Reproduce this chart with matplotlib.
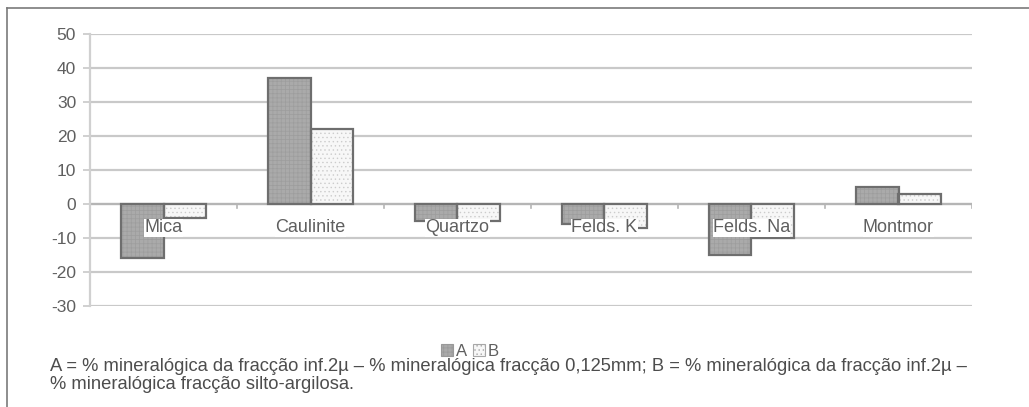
import numpy as np
import matplotlib
matplotlib.use("Agg")
import matplotlib.pyplot as plt
from matplotlib.patches import Patch
from matplotlib.lines import Line2D

plt.rcParams['font.family'] = ['Liberation Sans', 'DejaVu Sans']
plt.rcParams['hatch.linewidth'] = 0.5

# minerais e diferencas (%)
minerais = ['Mica', 'Caulinite', 'Quartzo', 'Felds. K', 'Felds. Na', 'Montmor']
serie_a = [-16, 37, -5, -6, -15, 5]
serie_b = [-4, 22, -5, -7, -10, 3]
yticks = [-30, -20, -10, 0, 10, 20, 30, 40, 50]

legenda = ('A = % mineralógica da fracção inf.2µ \u2013 % mineralógica fracção 0,125mm; '
           'B = % mineralógica da fracção inf.2µ \u2013\n% mineralógica fracção silto-argilosa.')

cinza_txt = '#5f5f5f'
borda = '#6e6e6e'

fig = plt.figure(figsize=(10.29, 4.07), dpi=100)
ax = fig.add_axes([90 / 1029, 1 - 306 / 407, 882 / 1029, 272 / 407])

x = np.arange(len(minerais))
w = 0.29

# preenchimento com textura
ax.bar(x - w / 2, serie_a, w, color='#aaaaaa', edgecolor='#9d9d9d', hatch='++++', linewidth=0, zorder=2)
ax.bar(x + w / 2, serie_b, w, color='#f7f7f7', edgecolor='#cccccc', hatch='....', linewidth=0, zorder=2)
# contornos
ax.bar(x - w / 2, serie_a, w, fill=False, edgecolor=borda, linewidth=1.6, zorder=3)
ax.bar(x + w / 2, serie_b, w, fill=False, edgecolor=borda, linewidth=1.6, zorder=3)

ax.set_xlim(-0.5, len(minerais) - 0.5)
ax.set_ylim(-30, 50)
ax.set_yticks(yticks)
ax.set_yticklabels([str(v) for v in yticks], fontsize=12.5, color=cinza_txt)
ax.tick_params(axis='y', length=5, width=1.2, color='#c8c8c8', pad=5)
ax.set_xticks([])
ax.grid(axis='y', color='#c9c9c9', linewidth=1.6, zorder=0)
ax.set_axisbelow(True)
for s in ['top', 'right', 'bottom']:
    ax.spines[s].set_visible(False)
ax.spines['left'].set_color('#d0d0d0')
ax.spines['left'].set_linewidth(1.6)

# eixo das categorias no zero
ax.axhline(0, color='#b5b5b5', linewidth=1.6, zorder=1)
for b in np.arange(0.5, len(minerais), 1.0):
    ax.plot([b, b], [0, -1.2], color='#b5b5b5', linewidth=1.2, zorder=1)

for i, nome in enumerate(minerais):
    ax.text(i, -7.0, nome, ha='center', va='center', fontsize=13, color=cinza_txt, zorder=4,
            bbox=dict(facecolor='white', edgecolor='none', pad=0.3))

# legenda das series
handles = [Patch(facecolor='#aaaaaa', edgecolor='#999999', hatch='++++', linewidth=0.8),
           Patch(facecolor='#f7f7f7', edgecolor='#a8a8a8', hatch='....', linewidth=0.8)]
fig.legend(handles, ['A', 'B'], loc='center', bbox_to_anchor=(470 / 1029, 1 - 351 / 407),
           ncol=2, frameon=False, fontsize=12, handlelength=0.7, handleheight=0.7,
           handletextpad=0.15, columnspacing=0.4, labelcolor=cinza_txt)

fig.text(50 / 1029, 1 - 375.5 / 407, legenda, fontsize=13.2, color='#4d4d4d',
         ha='left', va='center', linespacing=1.08)

# moldura
fig.add_artist(Line2D([7 / 1029, 1], [1 - 8 / 407] * 2, color='#7a7a7a', linewidth=1.2))
fig.add_artist(Line2D([7 / 1029] * 2, [0, 1 - 8 / 407], color='#7a7a7a', linewidth=1.2))

fig.savefig('out.png', dpi=100, facecolor='white')
